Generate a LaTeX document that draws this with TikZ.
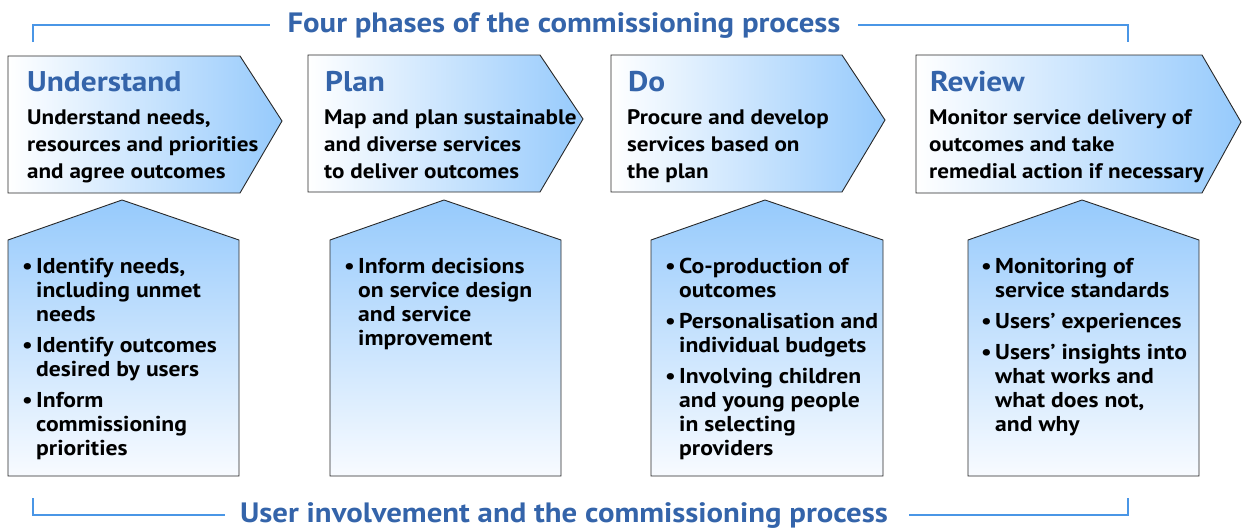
\documentclass[tikz,border=0pt]{standalone}
\usepackage{fontspec}
\setmainfont{PT Sans}[FakeStretch=1.1]
\definecolor{titleblue}{RGB}{52,100,170}
\definecolor{lineblue}{RGB}{74,150,230}
\definecolor{boxblue}{RGB}{150,202,252}
\definecolor{boxlight}{RGB}{248,251,255}
\definecolor{edge}{RGB}{40,40,40}
\newcommand{\bl}{\makebox[14pt][l]{\textbullet}}
\newcommand{\ind}{\hspace*{14pt}}
\begin{document}
\begin{tikzpicture}[x=1pt,y=-1pt,
  chev/.style={draw=edge,line width=0.9pt,left color=white,right color=boxblue},
  pent/.style={draw=edge,line width=0.9pt,top color=boxblue,bottom color=boxlight},
  bracket/.style={draw=lineblue,line width=2pt},
  title/.style={text=titleblue,font=\bfseries\fontsize{28}{30}\selectfont,inner sep=0pt},
  head/.style={text=titleblue,font=\bfseries\fontsize{28.5}{30}\selectfont,inner sep=0pt,anchor=base west},
  body/.style={font=\bfseries\fontsize{21}{27}\selectfont,inner sep=0pt,anchor=north west,align=left},
  bul/.style={font=\bfseries\fontsize{21.5}{24}\selectfont,inner sep=0pt,anchor=north west,align=left}]
\useasboundingbox (0,0) rectangle (1242,530);

% titles and brackets
\node[title,anchor=base] (t1) at (564,32) {Four phases of the commissioning process};
\node[title,anchor=base] (t2) at (564,522) {User involvement and the commissioning process};
\coordinate (a1) at (33,42); \coordinate (a2) at (33,25); \coordinate (a3) at (270,25);
\coordinate (a4) at (858,25); \coordinate (a5) at (1128,25); \coordinate (a6) at (1128,42);
\draw[bracket] (a1) -- (a2) -- (a3);
\draw[bracket] (a4) -- (a5) -- (a6);
\coordinate (b1) at (33,498); \coordinate (b2) at (33,515); \coordinate (b3) at (225,515);
\coordinate (b4) at (909,515); \coordinate (b5) at (1128,515); \coordinate (b6) at (1128,498);
\draw[bracket] (b1) -- (b2) -- (b3);
\draw[bracket] (b4) -- (b5) -- (b6);

% chevrons
\path[chev] (8,56) -- (240,56) -- (282,121) -- (240,193) -- (8,193) -- cycle;
\path[chev] (308,55) -- (540,55) -- (583,119) -- (540,192) -- (308,192) -- cycle;
\path[chev] (611,55) -- (842,55) -- (885,120) -- (842,192) -- (611,192) -- cycle;
\path[chev] (916,55) -- (1202,55) -- (1241,122) -- (1202,193) -- (916,193) -- cycle;

% pentagons
\path[pent] (8,240) -- (122,200) -- (239,240) -- (239,476) -- (8,476) -- cycle;
\path[pent] (330,240) -- (444,200) -- (561,240) -- (561,476) -- (330,476) -- cycle;
\path[pent] (651,240) -- (765,200) -- (883,240) -- (883,476) -- (651,476) -- cycle;
\path[pent] (968,240) -- (1082,200) -- (1199,240) -- (1199,476) -- (968,476) -- cycle;

% headings
\node[head] (h1) at (27,91) {Understand};
\node[head] (h2) at (325,91) {Plan};
\node[head] (h3) at (628,91) {Do};
\node[head] (h4) at (930,91) {Review};

% chevron texts
\node[body] (c1) at (27,105.1) {\strut Understand needs,\\resources and priorities\\and agree outcomes};
\node[body] (c2) at (324,105.1) {\strut Map and plan sustainable\\and diverse services\\to deliver outcomes};
\node[body] (c3) at (627,105.1) {\strut Procure and develop\\services based on\\the plan};
\node[body] (c4) at (929,105.1) {\strut Monitor service delivery of\\outcomes and take\\remedial action if necessary};

% bullet texts
\node[bul] (p1) at (22,256.2) {\strut\bl Identify needs,\\\ind including unmet\\\ind needs\\[7pt]\bl Identify outcomes\\\ind desired by users\\[7pt]\bl Inform\\\ind commissioning\\\ind priorities};
\node[bul] (p2) at (344,256.2) {\strut\bl Inform decisions\\\ind on service design\\\ind and service\\\ind improvement};
\node[bul] (p3) at (665,256.2) {\strut\bl Co-production of\\\ind outcomes\\[7pt]\bl Personalisation and\\\ind individual budgets\\[7pt]\bl Involving children\\\ind and young people\\\ind in selecting\\\ind providers};
\node[bul] (p4) at (981,256.2) {\strut\bl Monitoring of\\\ind service standards\\[7pt]\bl Users’ experiences\\[7pt]\bl Users’ insights into\\\ind what works and\\\ind what does not,\\\ind and why};
\end{tikzpicture}
\end{document}
